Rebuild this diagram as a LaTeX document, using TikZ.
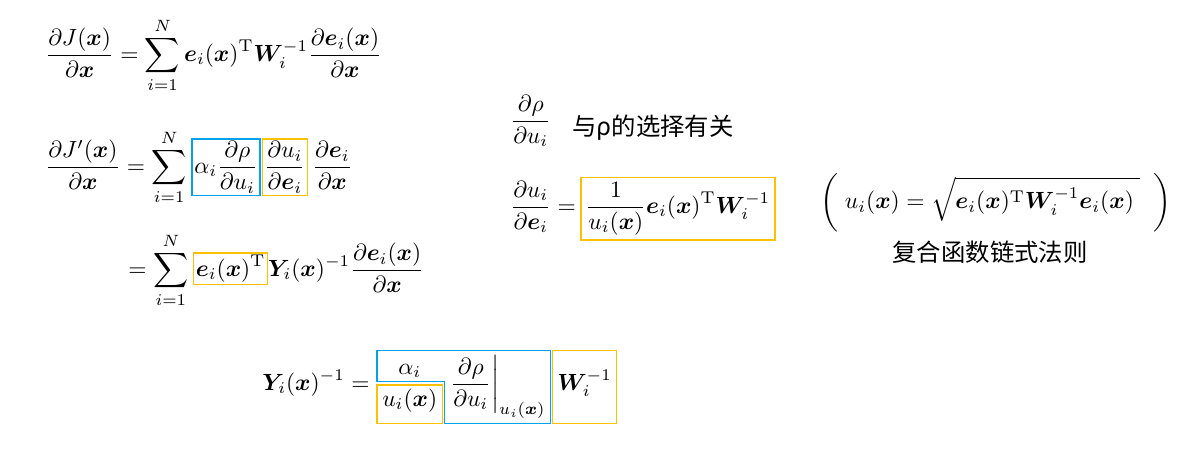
\documentclass[tikz,border=0pt]{standalone}
\usepackage{amsmath,amssymb,bm}
\usepackage{fontspec}
\newfontfamily\cjk{Noto Sans CJK SC}
\usetikzlibrary{positioning,calc}
\definecolor{boxblue}{RGB}{0,162,232}
\definecolor{boxgold}{RGB}{255,192,0}
\newcommand\bx{\bm{x}}
\newcommand\be{\bm{e}}
\newcommand\bW{\bm{W}}
\newcommand\bY{\bm{Y}}
\tikzset {
part/.style={inner sep=1pt,outer sep=0pt,anchor=base west},
bluebox/.style={part,draw=boxblue,line width=0.6pt},
goldbox/.style={part,draw=boxgold,line width=0.6pt}
}

\begin{document}
\fontsize{10.4}{12.5}\selectfont
\begin{tikzpicture}
[x=0.015cm,y=-0.015cm]
\useasboundingbox (0,0) rectangle (1186,449);
% first line
\node[anchor=west,inner sep=0pt] (eq1) at (45,55) {$\displaystyle\frac{\partial J(\bx)}{\partial\bx}=\sum_{i=1}^N \be_i(\bx)^{\mathrm T}\bW_i^{-1}\frac{\partial\be_i(\bx)}{\partial\bx}$};
% second line
\node[anchor=west,inner sep=0pt] (lhs2) at (45,167) {$\displaystyle\frac{\partial J'(\bx)}{\partial\bx}=\sum_{i=1}^N$};
\node[bluebox] (rho2) at ($(lhs2.base east)+(2pt,0)$) {$\displaystyle\alpha_i\frac{\partial\rho}{\partial u_i}$};
\node[goldbox] (ue2) at ($(rho2.base east)+(1pt,0)$) {$\displaystyle\frac{\partial u_i}{\partial\be_i}$};
\node[part] (ex2) at ($(ue2.base east)+(1pt,0)$) {$\displaystyle\frac{\partial\be_i}{\partial\bx}$};
% third line
\node[anchor=west,inner sep=0pt] (sum3) at (128,270) {$\displaystyle=\sum_{i=1}^N$};
\node[goldbox] (eT3) at ($(sum3.base east)+(2pt,0)$) {$\displaystyle\be_i(\bx)^{\mathrm T}$};
\node[part,inner sep=0pt] (rest3) at (eT3.base east) {$\displaystyle\bY_i(\bx)^{-1}\frac{\partial\be_i(\bx)}{\partial\bx}$};
% Y_i
\node[anchor=west,inner sep=0pt] (lhs4) at (262,383) {$\displaystyle\bY_i(\bx)^{-1}=$};
\node[part] (frac4) at ($(lhs4.base east)+(3pt,0)$) {$\displaystyle\frac{\alpha_i}{u_i(\bx)}$};
\node[part,inner sep=2pt] (eval4) at ($(frac4.base east)+(1.5pt,0)$) {$\displaystyle\frac{\partial\rho}{\partial u_i}\bigg|_{u_i(\bx)}$};
\node[part,inner sep=2pt] (w4) at ($(eval4.base east)+(1pt,0)$) {$\displaystyle\bW_i^{-1}$};
\draw[boxgold,line width=0.6pt] (w4.west |- eval4.north) rectangle (w4.east |- eval4.south);
\draw[boxgold,line width=0.6pt] (frac4.west |- eval4.south) rectangle ($(frac4.base east)+(0,2.2pt)$);
\draw[boxblue,line width=0.6pt] (frac4.west |- eval4.north) -- ($(frac4.base west)+(0,3.6pt)$)
  -- ($(frac4.base east)+(0.8pt,3.6pt)$) -- ($(frac4.east |- eval4.south)+(0.8pt,0)$)
  -- (eval4.south east) -- (eval4.north east) -- cycle;
% right side
\node[anchor=west,inner sep=0pt] (drho) at (510,121) {$\displaystyle\frac{\partial\rho}{\partial u_i}$};
\node[anchor=west,inner sep=0pt] (note1) at (572,128) {\cjk 与ρ的选择有关};
\node[anchor=west,inner sep=0pt] (due) at (510,207) {$\displaystyle\frac{\partial u_i}{\partial\be_i}=$};
\node[goldbox,inner sep=2pt] (grad) at ($(due.base east)+(2pt,0)$) {$\displaystyle\frac{1}{u_i(\bx)}\be_i(\bx)^{\mathrm T}\bW_i^{-1}$};
\node[anchor=west,inner sep=0pt] (ui) at (820,203) {$\displaystyle\biggl(\;u_i(\bx)=\sqrt{\be_i(\bx)^{\mathrm T}\bW_i^{-1}\be_i(\bx)\;}\;\;\biggr)$};
\node[inner sep=0pt] (chain) at (990,252) {\cjk 复合函数链式法则};
\end{tikzpicture}
\end{document}
